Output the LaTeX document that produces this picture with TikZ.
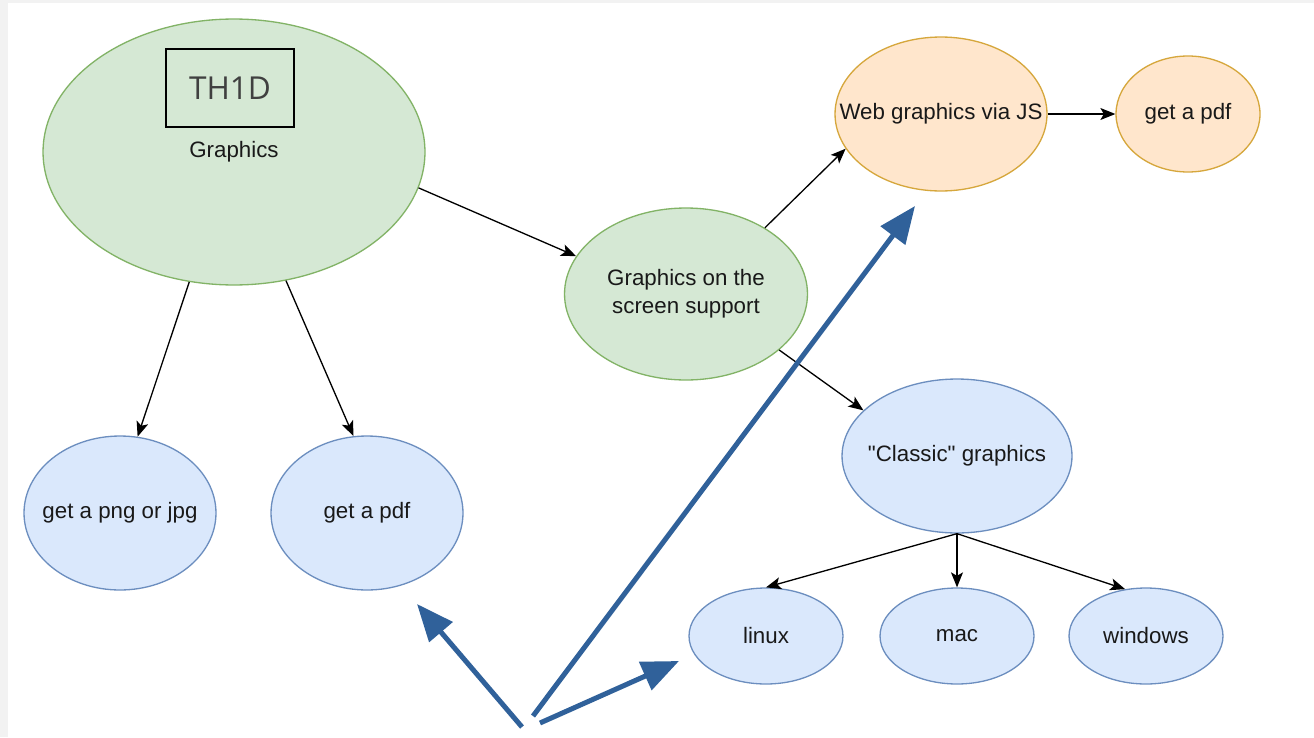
\documentclass[tikz,border=0pt]{standalone}
\usepackage{fontspec}
\setmainfont{Liberation Sans}[Ligatures=TeXOff]
\newfontfamily\thfont{Open Sans}
\usepackage{xcolor}
\usetikzlibrary{shapes.geometric,arrows.meta}

\definecolor{greenfill}{HTML}{D5E8D4}
\definecolor{greenline}{HTML}{82B366}
\definecolor{bluefill}{HTML}{DAE8FC}
\definecolor{blueline}{HTML}{6C8EBF}
\definecolor{orangefill}{HTML}{FFE6CC}
\definecolor{orangeline}{HTML}{D6A73C}
\definecolor{notecolor}{HTML}{30619A}
\definecolor{framecolor}{HTML}{F2F2F2}

\begin{document}
\begin{tikzpicture}[
            x = 0.02cm, y = -0.02cm, % one unit is one pixel, y going down
            > = {Stealth[length=0.3cm, width=0.24cm, inset=0.07cm]}, % arrow head style
            line width = 0.75pt, % line style
            every label/.style = {font=\fontsize{12.7}{16}\selectfont, text=black!90, align=center},
            gnode/.style = {shape=ellipse, draw=greenline, fill=greenfill, inner sep=0pt},
            bnode/.style = {shape=ellipse, draw=blueline, fill=bluefill, inner sep=0pt},
            onode/.style = {shape=ellipse, draw=orangeline, fill=orangefill, inner sep=0pt},
            small/.style = {minimum width=3.08cm, minimum height=1.92cm},
            pointer/.style = {draw=notecolor, line width=0.1cm, -{Triangle[length=0.74cm, width=0.6cm]}}
        ]
% page
\fill[framecolor] (0,0) rectangle (1314,737);
\fill[white] (8,3) rectangle (1314,737);
\useasboundingbox (0,0) rectangle (1314,737);

\node[gnode, minimum width=7.64cm, minimum height=5.32cm, label=center:Graphics] (G) at (234,152) {};
\node[draw=black, line width=1pt, minimum width=2.56cm, minimum height=1.56cm,
      font=\thfont\fontsize{18}{20}\selectfont, text=black!75] (T) at (230,88) {TH1D};
\node[bnode, minimum width=3.84cm, minimum height=3.08cm, label=center:get a png or jpg] (PNG) at (120,513) {};
\node[bnode, minimum width=3.84cm, minimum height=3.08cm, label=center:get a pdf] (PDF) at (367,513) {};
\node[gnode, minimum width=4.86cm, minimum height=3.44cm,
      label={center:Graphics on the\\screen support}] (S) at (686,294) {};
\node[onode, minimum width=4.24cm, minimum height=3.08cm, label=center:Web graphics via JS] (JS) at (941,114) {};
\node[onode, minimum width=2.88cm, minimum height=2.32cm, label=center:get a pdf] (JP) at (1188,114) {};
\node[bnode, minimum width=4.6cm, minimum height=3.08cm,
      label={center:"Classic" graphics}] (C) at (957,456) {};
\node[bnode, small, label=center:linux] (L) at (766,636) {};
\node[bnode, small, label=center:mac] (M) at (957,636) {};
\node[bnode, small, label=center:windows] (Win) at (1146,636) {};

 \path [->] (G.-11) edge (S.161);
 \path [->] (G.251) edge (PNG.77);
 \path [->] (G.-68) edge (PDF.100);
 \path [->] (S.40) edge (JS.200);
 \path [->] (S.-31) edge (C.154);
 \path [->] (JS.east) edge (JP.west);
 \path [->] (C.south) edge (L.north);
 \path [->] (C.south) edge (M.north);
 \path [->] (C.south) edge (Win.114);

% blue pointers
\coordinate (P1) at (522,727);
\coordinate (P2) at (533,716);
\coordinate (P3) at (540,723);
\coordinate (Q1) at (417,604);
\coordinate (Q2) at (915,206);
\coordinate (Q3) at (679,661);
\draw[pointer] (P1) -- (Q1);
\draw[pointer] (P2) -- (Q2);
\draw[pointer] (P3) -- (Q3);
\end{tikzpicture}
\end{document}
